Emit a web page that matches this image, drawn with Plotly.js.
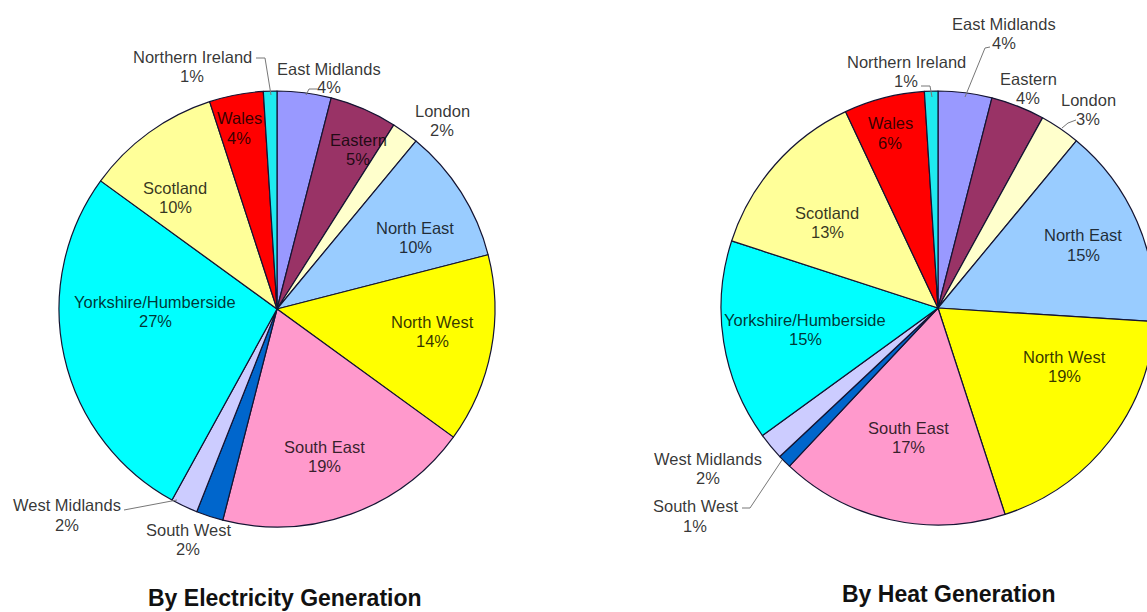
<!DOCTYPE html>
<html>
<head>
<meta charset="utf-8">
<script src="https://cdn.plot.ly/plotly-3.0.1.min.js"></script>
<style>
html, body { margin: 0; padding: 0; overflow: hidden; background: #fff; }
#chart { width: 1160px; height: 612px; }
</style>
</head>
<body>
<div id="chart"></div>
<script>
// ---- data ----
const regions = ['East Midlands', 'Eastern', 'London', 'North East', 'North West', 'South East',
  'South West', 'West Midlands', 'Yorkshire/Humberside', 'Scotland', 'Wales', 'Northern Ireland'];
const elecShare = [4, 5, 2, 10, 14, 19, 2, 2, 27, 10, 4, 1];
const heatShare = [4, 4, 3, 15, 19, 17, 1, 2, 15, 13, 6, 1];
const chartTitles = ['By Electricity Generation', 'By Heat Generation'];

// ---- styles / layout ----
const regionColors = ['#9999FF', '#993366', '#FFFFCC', '#99CCFF', '#FFFF00', '#FF99CC',
  '#0066CC', '#CCCCFF', '#00FFFF', '#FFFF99', '#FF0000', '#1FEAF0'];
const W = 1160, H = 612;
const fx = px => px / W;
const fy = py => 1 - py / H;

// label centres (pixels) for each region, same order as regions
const elecLabelPx = [[329, 78], [358, 150], [442, 120], [415, 237], [432, 331], [324, 456],
  [188, 539], [67, 515], [155, 311], [175, 197], [239, 128], [192, 66]];
const heatLabelPx = [[1004, 34], [1028, 89], [1088, 110], [1083, 245], [1064, 366], [908, 437],
  [695, 516], [708, 468], [805, 329], [827, 222], [890, 133], [906, 72]];

// leader lines (pixel polylines)
const leaders = [
  [[256, 58], [265, 58], [271, 95]],
  [[317, 89], [309, 89], [306, 95]],
  [[124, 510], [177, 500]],
  [[921, 86], [930, 86], [932, 97]],
  [[990, 47], [985, 48], [965, 97]],
  [[1076, 120], [1068, 123], [1062, 128]],
  [[742, 508], [750, 508], [782, 460]]
];

const pieStyle = {
  type: 'pie', sort: false, direction: 'clockwise', rotation: 0,
  textinfo: 'none', hoverinfo: 'label+percent', showlegend: false,
  marker: { colors: regionColors, line: { color: '#141432', width: 1.2 } }
};

const cL = [277, 309], rL = 218;
const cR = [938, 308], rR = 217;

const traces = [
  Object.assign({}, pieStyle, {
    labels: regions, values: elecShare,
    domain: { x: [fx(cL[0] - rL), fx(cL[0] + rL)], y: [fy(cL[1] + rL), fy(cL[1] - rL)] }
  }),
  Object.assign({}, pieStyle, {
    labels: regions, values: heatShare,
    domain: { x: [fx(cR[0] - rR), fx(cR[0] + rR)], y: [fy(cR[1] + rR), fy(cR[1] - rR)] }
  })
];

const labelFont = { family: 'Liberation Sans, Arial, sans-serif', size: 16.5, color: 'rgba(0,0,0,0.8)' };
const annotations = [];
function addLabels(values, pos) {
  regions.forEach((r, i) => {
    [[r, -9.5], [values[i] + '%', 9.5]].forEach(([txt, dy]) => {
      annotations.push({
        xref: 'paper', yref: 'paper', x: fx(pos[i][0]), y: fy(pos[i][1] + dy),
        xanchor: 'center', yanchor: 'middle', showarrow: false, align: 'center',
        text: txt, font: labelFont, borderpad: 0
      });
    });
  });
}
addLabels(elecShare, elecLabelPx);
addLabels(heatShare, heatLabelPx);

const titlePx = [[285, 598], [948, 594]];
chartTitles.forEach((t, i) => {
  annotations.push({
    xref: 'paper', yref: 'paper', x: fx(titlePx[i][0]), y: fy(titlePx[i][1]),
    xanchor: 'center', yanchor: 'middle', showarrow: false, borderpad: 0,
    text: '<b>' + t + '</b>',
    font: { family: 'Liberation Sans, Arial, sans-serif', size: 23, color: '#111' }
  });
});

const shapes = [];
leaders.forEach(pl => {
  for (let k = 0; k < pl.length - 1; k++) {
    shapes.push({
      type: 'line', xref: 'paper', yref: 'paper',
      x0: fx(pl[k][0]), y0: fy(pl[k][1]), x1: fx(pl[k + 1][0]), y1: fy(pl[k + 1][1]),
      line: { color: '#777', width: 1 }
    });
  }
});

const layout = {
  width: W, height: H,
  margin: { l: 0, r: 0, t: 0, b: 0 },
  paper_bgcolor: '#fff', plot_bgcolor: '#fff',
  annotations: annotations, shapes: shapes
};

Plotly.newPlot('chart', traces, layout, { displayModeBar: false, staticPlot: true });
</script>
</body>
</html>
